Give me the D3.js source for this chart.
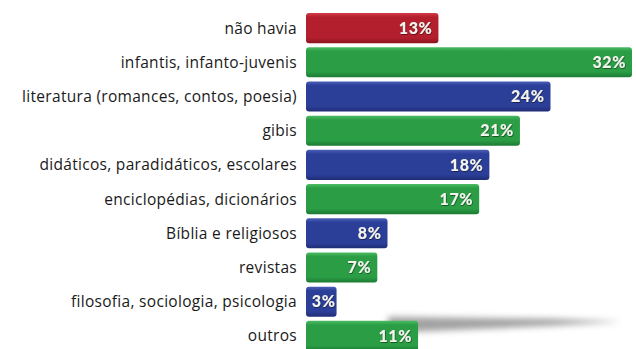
<!DOCTYPE html>
<html>
<head>
<meta charset="utf-8">
<script src="https://cdn.jsdelivr.net/npm/d3@7"></script>
<style>
  html, body { margin: 0; padding: 0; background: #fff; }
  svg { display: block; }
</style>
</head>
<body>
<svg id="chart" width="636" height="349"></svg>
<script>
// Tipos de livros encontrados em casa (%)
const categories = [
  "não havia",
  "infantis, infanto-juvenis",
  "literatura (romances, contos, poesia)",
  "gibis",
  "didáticos, paradidáticos, escolares",
  "enciclopédias, dicionários",
  "Bíblia e religiosos",
  "revistas",
  "filosofia, sociologia, psicologia",
  "outros"
];
const values = [13, 32, 24, 21, 18, 17, 8, 7, 3, 11];
const colorKeys = ["red", "green", "blue", "green", "blue", "green", "blue", "green", "blue", "green"];

const palette = {
  red:   { top: "#d23a47", mid: "#b31f2d", bot: "#8c1420" },
  green: { top: "#4cbc62", mid: "#2a9d45", bot: "#1c7a33" },
  blue:  { top: "#4a5fb8", mid: "#2c3f98", bot: "#1f2c76" }
};

const svg = d3.select("#chart");
const x0 = 306;

const x = d3.scaleLinear().domain([0, 32]).range([x0, 632]);
const y = d3.scaleBand().domain(categories).range([11, 353]).paddingInner(0.12).paddingOuter(0.06);

const defs = svg.append("defs");
Object.entries(palette).forEach(([k, c]) => {
  const g = defs.append("linearGradient").attr("id", "g-" + k)
    .attr("x1", 0).attr("y1", 0).attr("x2", 0).attr("y2", 1);
  g.append("stop").attr("offset", "0%").attr("stop-color", c.top);
  g.append("stop").attr("offset", "14%").attr("stop-color", c.mid);
  g.append("stop").attr("offset", "82%").attr("stop-color", c.mid);
  g.append("stop").attr("offset", "100%").attr("stop-color", c.bot);
});
defs.append("filter").attr("id", "blur").attr("x", "-20%").attr("y", "-200%").attr("width", "140%").attr("height", "500%")
  .append("feGaussianBlur").attr("stdDeviation", 3.2);
const ts = defs.append("filter").attr("id", "txtshadow").attr("x", "-20%").attr("y", "-20%").attr("width", "140%").attr("height", "140%");
ts.append("feDropShadow").attr("dx", 0.6).attr("dy", 0.8).attr("stdDeviation", 0.6)
  .attr("flood-color", "#000").attr("flood-opacity", 0.55);

// Sombra projetada sob a última barra
const last = categories[categories.length - 1];
const sy = y(last);
svg.append("path")
  .attr("d", d3.line()([
    [x(values[values.length - 1]) - 30, sy - 4],
    [x(24), sy - 2],
    [x(31), sy + 1],
    [x(24), sy + 5],
    [x(values[values.length - 1]) - 30, sy + 12]
  ]) + "Z")
  .attr("fill", "#8a8a8a")
  .attr("opacity", 0.8)
  .attr("filter", "url(#blur)");

// Rótulos das categorias
svg.append("g").selectAll("text").data(categories).join("text")
  .attr("x", 297)
  .attr("y", d => y(d) + y.bandwidth() / 2)
  .attr("dy", "0.36em")
  .attr("text-anchor", "end")
  .attr("font-family", "'Open Sans', Lato, sans-serif")
  .attr("font-size", 15.5)
  .attr("letter-spacing", 0.3)
  .attr("fill", "#1a1a1a")
  .text(d => d);

// Barras
svg.append("g").selectAll("rect").data(categories).join("rect")
  .attr("x", x0)
  .attr("y", d => y(d))
  .attr("width", (d, i) => x(values[i]) - x0)
  .attr("height", y.bandwidth())
  .attr("rx", 3)
  .attr("fill", (d, i) => `url(#g-${colorKeys[i]})`);

// Valores
svg.append("g").selectAll("text").data(categories).join("text")
  .attr("x", (d, i) => x(values[i]) - (values[i] < 5 ? 1 : 6))
  .attr("y", d => y(d) + y.bandwidth() / 2)
  .attr("dy", "0.36em")
  .attr("text-anchor", "end")
  .attr("font-family", "Lato, 'Open Sans', sans-serif")
  .attr("font-weight", 900)
  .attr("font-size", 16)
  .attr("letter-spacing", 0.6)
  .attr("fill", "#f4f4ee")
  .attr("filter", "url(#txtshadow)")
  .text((d, i) => values[i] + "%");
</script>
</body>
</html>
